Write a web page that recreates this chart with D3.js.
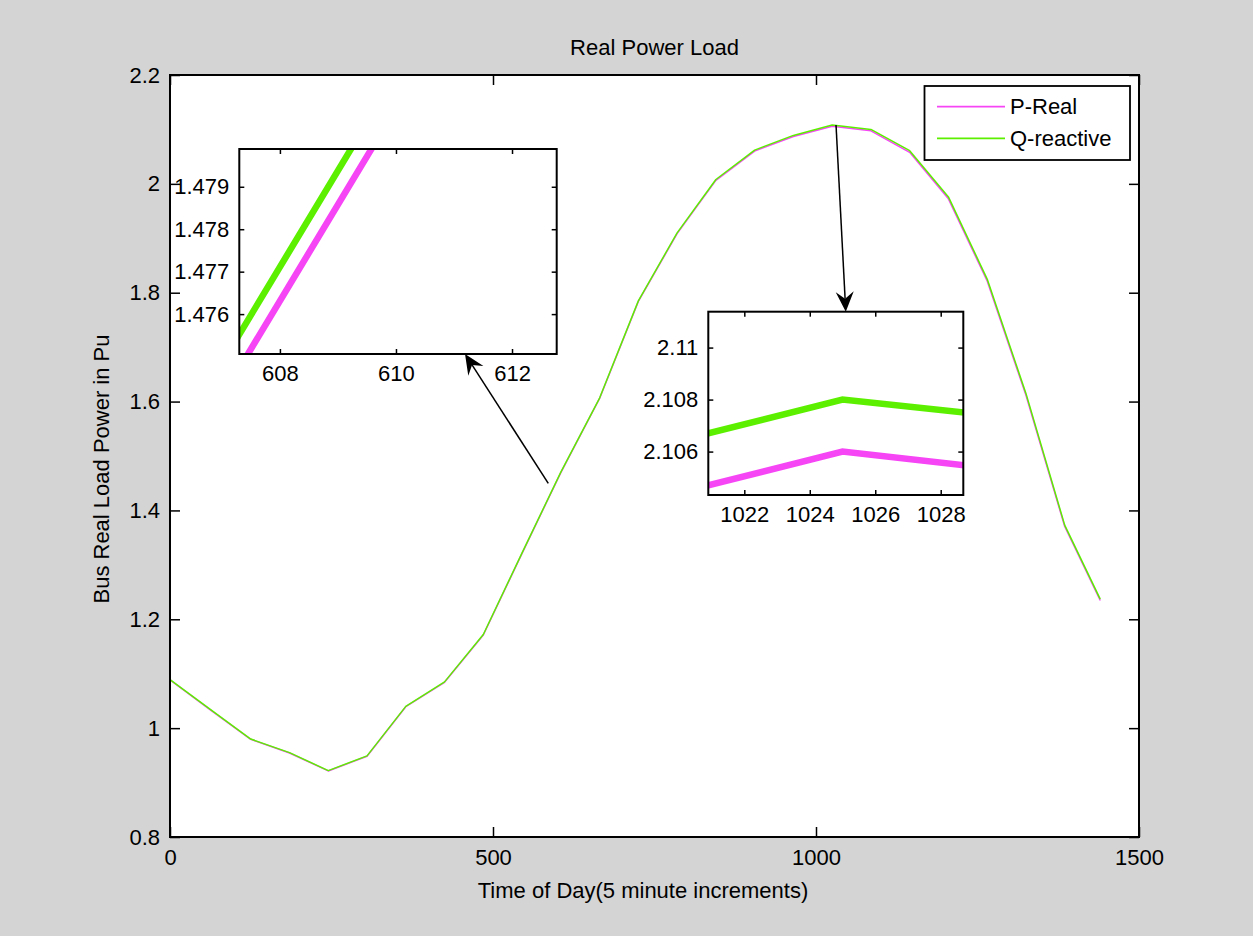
<!DOCTYPE html>
<html>
<head>
<meta charset="utf-8">
<script src="https://cdn.jsdelivr.net/npm/d3@7"></script>
<style>
  html, body { margin: 0; padding: 0; background: #d4d4d4; }
  svg { display: block; }
  text { font-family: "Liberation Sans", Arial, Helvetica, sans-serif; fill: #000; }
</style>
</head>
<body>
<svg id="chart" width="1253" height="936"></svg>
<script>
// Time of day (minutes) at each sample of the load profile
const timeOfDay = [0, 65, 125, 185, 245, 305, 365, 425, 485, 545, 605, 665, 725,
                   785, 845, 905, 965, 1025, 1085, 1145, 1205, 1265, 1325, 1385, 1440];

// Bus real power (per unit)
const pReal = [1.0885, 1.0314, 0.9795, 0.9544, 0.9214, 0.9484, 1.0394, 1.0843, 1.1712,
               1.3212, 1.4695, 1.6057, 1.7840, 1.9085, 2.0063, 2.0602, 2.0870, 2.1060,
               2.0975, 2.0580, 1.9725, 1.8215, 1.6115, 1.3705, 1.2345];

// Bus reactive quantity (per unit)
const qReactive = [1.0890, 1.0320, 0.9800, 0.9550, 0.9220, 0.9490, 1.0400, 1.0850, 1.1720,
                   1.3220, 1.4703, 1.6065, 1.7850, 1.9100, 2.0080, 2.0620, 2.0890, 2.1080,
                   2.1000, 2.0610, 1.9760, 1.8250, 1.6150, 1.3730, 1.2370];

const seriesNames  = ["P-Real", "Q-reactive"];
const seriesColors = ["#f545f5", "#5cf000"];

const xTicks = [0, 500, 1000, 1500];
const yTicks = [0.8, 1, 1.2, 1.4, 1.6, 1.8, 2, 2.2];

// Zoomed views
const zoomA = { xDomain: [607.3, 612.77], yDomain: [1.47506, 1.47989],
                xTicks: [608, 610, 612], yTicks: [1.476, 1.477, 1.478, 1.479] };
const zoomB = { xDomain: [1020.9, 1028.69], yDomain: [2.10433, 2.11138],
                xTicks: [1022, 1024, 1026, 1028], yTicks: [2.106, 2.108, 2.11] };

// Annotation arrows: start in main-plot data, tip in the zoom view's data
const arrowStarts = [[585.6, 1.4498], [1031, 2.108]];
const arrowTips   = [[611.19, "bottom"], [1025.1, "top"]];

const titleText  = "Real Power Load";
const xLabelText = "Time of Day(5 minute increments)";
const yLabelText = "Bus Real Load Power in Pu";

// ---------------------------------------------------------------------------
const svg = d3.select("#chart");
const FS = 22;
const box = { left: 170, right: 1139, top: 75, bottom: 837 };

const x = d3.scaleLinear().domain([0, 1500]).range([box.left, box.right]);
const y = d3.scaleLinear().domain([0.8, 2.2]).range([box.bottom, box.top]);

const series = [pReal, qReactive].map((vals, i) => ({
  name: seriesNames[i], color: seriesColors[i],
  points: timeOfDay.map((t, j) => [t, vals[j]])
}));

// Plot area
svg.append("rect")
  .attr("x", box.left).attr("y", box.top)
  .attr("width", box.right - box.left).attr("height", box.bottom - box.top)
  .attr("fill", "#fff");

function styleAxis(g, showText) {
  g.select(".domain").remove();
  g.selectAll(".tick line").attr("stroke", "#000").attr("stroke-width", 1.5);
  g.selectAll(".tick text").attr("font-size", FS).style("display", showText ? null : "none");
}

const fmt1 = d => String(+d.toFixed(1));
svg.append("g").attr("transform", `translate(0,${box.bottom})`)
  .call(d3.axisBottom(x).tickValues(xTicks).tickSize(-10).tickPadding(9).tickFormat(d3.format("d")))
  .call(g => styleAxis(g, true))
  .call(g => g.selectAll(".tick text").attr("dy", "0.85em"));
svg.append("g").attr("transform", `translate(0,${box.top})`)
  .call(d3.axisTop(x).tickValues(xTicks).tickSize(-10))
  .call(g => styleAxis(g, false));
svg.append("g").attr("transform", `translate(${box.left},0)`)
  .call(d3.axisLeft(y).tickValues(yTicks).tickSize(-10).tickPadding(10).tickFormat(fmt1))
  .call(g => styleAxis(g, true));
svg.append("g").attr("transform", `translate(${box.right},0)`)
  .call(d3.axisRight(y).tickValues(yTicks).tickSize(-10))
  .call(g => styleAxis(g, false));

// Main curves (P drawn first, Q on top)
const mainLine = d3.line().x(d => x(d[0])).y(d => y(d[1]));
svg.append("g").selectAll("path").data(series).join("path")
  .attr("d", d => mainLine(d.points))
  .attr("fill", "none").attr("stroke", d => d.color).attr("stroke-width", 1.5)
  .attr("stroke-linejoin", "round");

svg.append("rect")
  .attr("x", box.left).attr("y", box.top)
  .attr("width", box.right - box.left).attr("height", box.bottom - box.top)
  .attr("fill", "none").attr("stroke", "#000").attr("stroke-width", 2);

// Titles
svg.append("text").attr("x", (box.left + box.right) / 2).attr("y", 55)
  .attr("text-anchor", "middle").attr("font-size", FS).text(titleText);
svg.append("text").attr("x", 643).attr("y", 898)
  .attr("text-anchor", "middle").attr("font-size", FS).text(xLabelText);
svg.append("text").attr("transform", "translate(109,469) rotate(-90)")
  .attr("text-anchor", "middle").attr("font-size", FS).text(yLabelText);

// Legend
const legend = svg.append("g");
legend.append("rect").attr("x", 924.5).attr("y", 86).attr("width", 205.5).attr("height", 74)
  .attr("fill", "#fff").attr("stroke", "#000").attr("stroke-width", 1.8);
const item = legend.selectAll("g.item").data(series).join("g")
  .attr("class", "item").attr("transform", (d, i) => `translate(0,${106.7 + i * 31.6})`);
item.append("line").attr("x1", 937).attr("x2", 1005)
  .attr("stroke", d => d.color).attr("stroke-width", 1.8);
item.append("text").attr("x", 1010).attr("dy", "0.35em").attr("font-size", FS).text(d => d.name);

// Zoom views
function drawZoom(cfg, rect, fmt, id) {
  const zx = d3.scaleLinear().domain(cfg.xDomain).range([rect.x0, rect.x1]);
  const zy = d3.scaleLinear().domain(cfg.yDomain).range([rect.y1, rect.y0]);
  const g = svg.append("g");
  g.append("clipPath").attr("id", id).append("rect")
    .attr("x", rect.x0).attr("y", rect.y0).attr("width", rect.x1 - rect.x0).attr("height", rect.y1 - rect.y0);
  g.append("rect").attr("x", rect.x0).attr("y", rect.y0)
    .attr("width", rect.x1 - rect.x0).attr("height", rect.y1 - rect.y0).attr("fill", "#fff");
  const zl = d3.line().x(d => zx(d[0])).y(d => zy(d[1]));
  g.append("g").attr("clip-path", `url(#${id})`).selectAll("path").data(series).join("path")
    .attr("d", d => zl(d.points)).attr("fill", "none")
    .attr("stroke", d => d.color).attr("stroke-width", 6.5);
  const tl = 5;
  g.append("g").attr("transform", `translate(0,${rect.y1})`)
    .call(d3.axisBottom(zx).tickValues(cfg.xTicks).tickSize(-tl).tickPadding(8).tickFormat(d3.format("d")))
    .call(a => styleAxis(a, true)).call(a => a.selectAll(".tick text").attr("dy", "0.85em"));
  g.append("g").attr("transform", `translate(0,${rect.y0})`)
    .call(d3.axisTop(zx).tickValues(cfg.xTicks).tickSize(-tl)).call(a => styleAxis(a, false));
  g.append("g").attr("transform", `translate(${rect.x0},0)`)
    .call(d3.axisLeft(zy).tickValues(cfg.yTicks).tickSize(-tl).tickPadding(10).tickFormat(fmt))
    .call(a => styleAxis(a, true));
  g.append("g").attr("transform", `translate(${rect.x1},0)`)
    .call(d3.axisRight(zy).tickValues(cfg.yTicks).tickSize(-tl)).call(a => styleAxis(a, false));
  g.append("rect").attr("x", rect.x0).attr("y", rect.y0)
    .attr("width", rect.x1 - rect.x0).attr("height", rect.y1 - rect.y0)
    .attr("fill", "none").attr("stroke", "#000").attr("stroke-width", 2);
  return { zx, rect };
}
const fmt3 = d => String(+d.toFixed(3));
const viewA = drawZoom(zoomA, { x0: 239.3, x1: 556.7, y0: 149, y1: 354 }, fmt3, "clipA");
const viewB = drawZoom(zoomB, { x0: 708.3, x1: 963.3, y0: 311.7, y1: 495 }, fmt3, "clipB");

// Arrows
const views = [viewA, viewB];
const arrows = svg.append("g");
arrowStarts.forEach((s, i) => {
  const v = views[i];
  const x0 = x(s[0]), y0 = y(s[1]);
  const x1 = v.zx(arrowTips[i][0]);
  const y1 = arrowTips[i][1] === "top" ? v.rect.y0 : v.rect.y1;
  const ang = Math.atan2(y1 - y0, x1 - x0);
  const L = 20, W = 9, back = 13;
  const ux = Math.cos(ang), uy = Math.sin(ang), px = -uy, py = ux;
  const bx = x1 - ux * L, by = y1 - uy * L;
  const nx = x1 - ux * back, ny = y1 - uy * back;
  arrows.append("line").attr("x1", x0).attr("y1", y0).attr("x2", nx).attr("y2", ny)
    .attr("stroke", "#000").attr("stroke-width", 1.5);
  arrows.append("path")
    .attr("d", `M${x1},${y1}L${bx + px * W},${by + py * W}L${nx},${ny}L${bx - px * W},${by - py * W}Z`)
    .attr("fill", "#000");
});
</script>
</body>
</html>
